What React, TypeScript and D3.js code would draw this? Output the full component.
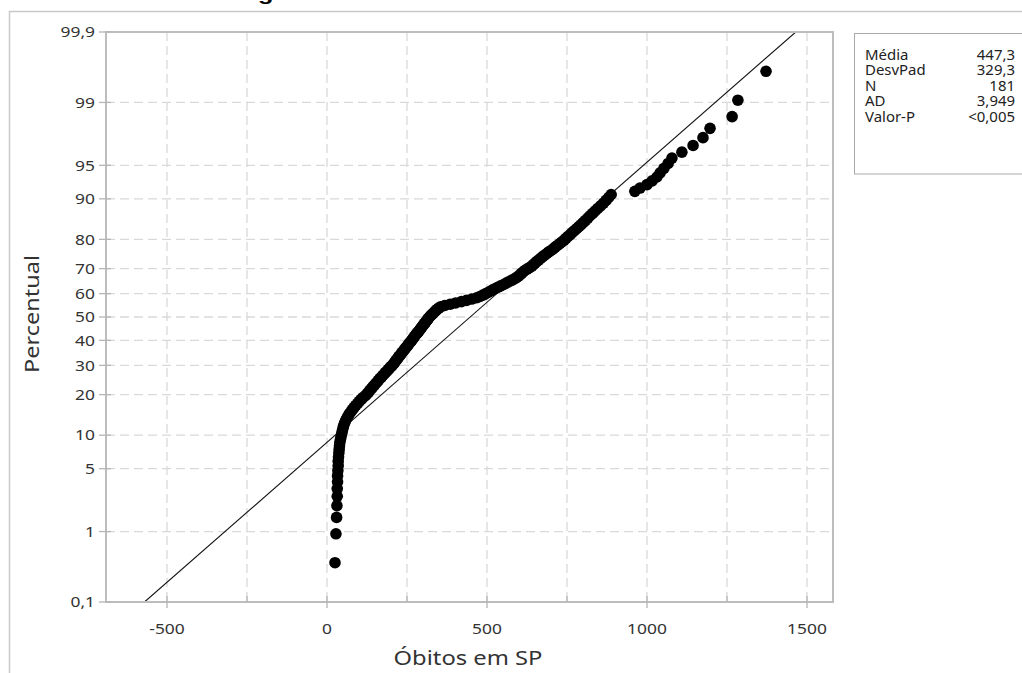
import React from "react";
import * as d3 from "d3";

// Sorted daily deaths (Óbitos em SP)
const deaths: number[] = [
  25, 28, 30, 31, 32, 32, 33, 33, 34, 35, 35, 36, 37, 38, 39, 40, 42, 44, 46, 48,
  50, 52, 55, 58, 62, 66, 70, 75, 80, 85, 90, 96, 101, 107, 112, 120, 125, 130, 134, 139,
  143, 148, 152, 157, 161, 165, 170, 174, 179, 183, 188, 192, 196, 201, 205, 209, 212, 215, 219, 222,
  225, 229, 232, 235, 239, 242, 245, 249, 252, 255, 258, 262, 265, 268, 271, 274, 277, 280, 284, 287,
  290, 293, 296, 299, 302, 305, 308, 311, 314, 317, 320,
  324, 328, 332, 336, 340, 344, 349, 355, 368, 385, 402, 420, 436, 452, 468, 478, 487, 495, 503,
  510, 518, 526, 534, 543, 552, 560, 568, 577, 585, 592, 598, 603, 608, 613, 618, 625, 633, 640, 645,
  650, 655, 661, 667, 673, 679, 686, 692, 700, 707, 713, 720, 727, 734, 741, 747, 753, 760, 766, 773,
  780, 787, 794, 801, 808, 815, 822, 830, 838, 846, 855, 864, 872, 880, 888, 962, 978, 1000, 1016, 1031,
  1041, 1053, 1066, 1078, 1109, 1144, 1175, 1197, 1266, 1284, 1372,
];

const yTickPercents = [0.1, 1, 5, 10, 20, 30, 40, 50, 60, 70, 80, 90, 95, 99, 99.9];
const yTickLabels = ["0,1", "1", "5", "10", "20", "30", "40", "50", "60", "70", "80", "90", "95", "99", "99,9"];
const xTicks = [-500, 0, 500, 1000, 1500];
const xTickLabels = ["-500", "0", "500", "1000", "1500"];
const xMinorTicks = [-250, 250, 750, 1250];
const statLabels = ["Média", "DesvPad", "N", "AD", "Valor-P"];
const statValues = ["447,3", "329,3", "181", "3,949", "<0,005"];
const fitMean = 447.3;
const fitSd = 329.3;
const titleText = "Figura 4 – Gráfico de Probabilidade Normal de Óbitos em SP";

function probit(p: number): number {
  const a = [-3.969683028665376e1, 2.209460984245205e2, -2.759285104469687e2, 1.38357751867269e2, -3.066479806614716e1, 2.506628277459239];
  const b = [-5.447609879822406e1, 1.615858368580409e2, -1.556989798598866e2, 6.680131188771972e1, -1.328068155288572e1];
  const c = [-7.784894002430293e-3, -3.223964580411365e-1, -2.400758277161838, -2.549732539343734, 4.374664141464968, 2.938163982698783];
  const d = [7.784695709041462e-3, 3.224671290700398e-1, 2.445134137142996, 3.754408661907416];
  const pl = 0.02425;
  let q: number, r: number;
  if (p < pl) {
    q = Math.sqrt(-2 * Math.log(p));
    return (((((c[0] * q + c[1]) * q + c[2]) * q + c[3]) * q + c[4]) * q + c[5]) / ((((d[0] * q + d[1]) * q + d[2]) * q + d[3]) * q + 1);
  }
  if (p <= 1 - pl) {
    q = p - 0.5;
    r = q * q;
    return ((((((a[0] * r + a[1]) * r + a[2]) * r + a[3]) * r + a[4]) * r + a[5]) * q) / (((((b[0] * r + b[1]) * r + b[2]) * r + b[3]) * r + b[4]) * r + 1);
  }
  q = Math.sqrt(-2 * Math.log(1 - p));
  return -(((((c[0] * q + c[1]) * q + c[2]) * q + c[3]) * q + c[4]) * q + c[5]) / ((((d[0] * q + d[1]) * q + d[2]) * q + d[3]) * q + 1);
}

const W = 1022;
const H = 673;
const L = 106, R = 833, T = 32, B = 602;
const FONT = "'Noto Sans', 'Open Sans', sans-serif";

export default function App() {
  const zMax = probit(0.999);
  const x = d3.scaleLinear().domain([-690.6, 1581.25]).range([L, R]);
  const y = d3.scaleLinear().domain([-zMax, zMax]).range([B, T]);
  const n = deaths.length;
  const pts = deaths.map((v, i) => ({ v, z: probit((i + 1 - 0.3) / (n + 0.4)) }));
  const fitLine = d3.line<number>().x((z) => x(fitMean + fitSd * z)).y((z) => y(z))([-zMax, zMax]);
  const gridX = [...xTicks, ...xMinorTicks];

  return (
    <svg width={W} height={H} style={{ position: "absolute", left: 0, top: 0, display: "block", background: "#fff" }} fontFamily={FONT}>
      <defs>
        <clipPath id="plotclip">
          <rect x={L} y={T} width={R - L} height={B - T} />
        </clipPath>
      </defs>
      <rect x={0} y={0} width={W} height={H} fill="#fff" />
      {/* Cut title: only the bottom of the glyphs shows */}
      <text x={235} y={-0.5} fontFamily="'Liberation Sans', Arial, sans-serif" fontWeight="bold" fontSize={18} fill="#000" textLength={740} lengthAdjust="spacingAndGlyphs">
        {titleText}
      </text>
      {/* outer frame */}
      <rect x={9.5} y={11.5} width={1100} height={700} fill="none" stroke="#c9c9c9" strokeWidth={1.5} />

      {/* grid */}
      <g stroke="#d9d9d9" strokeWidth={1.3} strokeDasharray="9,5">
        {gridX.map((v) => (
          <line key={"gx" + v} x1={x(v)} x2={x(v)} y1={T} y2={B} />
        ))}
        {yTickPercents.slice(1, -1).map((p) => (
          <line key={"gy" + p} x1={L} x2={R} y1={y(probit(p / 100))} y2={y(probit(p / 100))} />
        ))}
      </g>

      {/* fit line */}
      <path d={fitLine || ""} stroke="#111" strokeWidth={1.1} fill="none" clipPath="url(#plotclip)" />

      {/* points */}
      <g fill="#000">
        {pts.map((p, i) => (
          <circle key={i} cx={x(p.v)} cy={y(p.z)} r={5.8} />
        ))}
      </g>

      {/* frame */}
      <rect x={L} y={T} width={R - L} height={B - T} fill="none" stroke="#bdbdbd" strokeWidth={2} />

      {/* y ticks */}
      <g>
        {yTickPercents.map((p, i) => {
          const yy = y(probit(p / 100));
          return (
            <g key={"yt" + p}>
              <line x1={L - 7} x2={L + 5} y1={yy} y2={yy} stroke="#b5b5b5" strokeWidth={1.3} />
              <text transform={`translate(95,${yy}) scale(1.2,1)`} textAnchor="end" dy="0.36em" fontSize={14.5} fill="#333">
                {yTickLabels[i]}
              </text>
            </g>
          );
        })}
      </g>

      {/* x ticks */}
      <g>
        {xTicks.map((v, i) => (
          <g key={"xt" + v}>
            <line x1={x(v)} x2={x(v)} y1={B - 6} y2={B + 6} stroke="#b5b5b5" strokeWidth={1.3} />
            <text transform={`translate(${x(v)},${B + 32}) scale(1.2,1)`} textAnchor="middle" fontSize={14.5} fill="#333">
              {xTickLabels[i]}
            </text>
          </g>
        ))}
        {xMinorTicks.map((v) => (
          <line key={"xm" + v} x1={x(v)} x2={x(v)} y1={B - 6} y2={B} stroke="#b5b5b5" strokeWidth={1.3} />
        ))}
      </g>

      {/* axis titles */}
      <text transform={`translate(468,665) scale(1.25,1)`} textAnchor="middle" fontSize={19} fill="#333">
        Óbitos em SP
      </text>
      <text transform={`translate(39,314) rotate(-90)`} textAnchor="middle" fontSize={19} fill="#333" textLength={118} lengthAdjust="spacingAndGlyphs">
        Percentual
      </text>

      {/* stats box */}
      <rect x={854.5} y={33.5} width={200} height={140.5} fill="#fff" stroke="#a9a9a9" strokeWidth={1} />
      {statLabels.map((s, i) => (
        <g key={"st" + s}>
          <text transform={`translate(865,${60 + i * 15.4}) scale(1.15,1.06)`} fontSize={13} fill="#222">
            {s}
          </text>
          <text transform={`translate(1015,${60 + i * 15.4}) scale(1.15,1.06)`} textAnchor="end" fontSize={13} fill="#222">
            {statValues[i]}
          </text>
        </g>
      ))}
    </svg>
  );
}
